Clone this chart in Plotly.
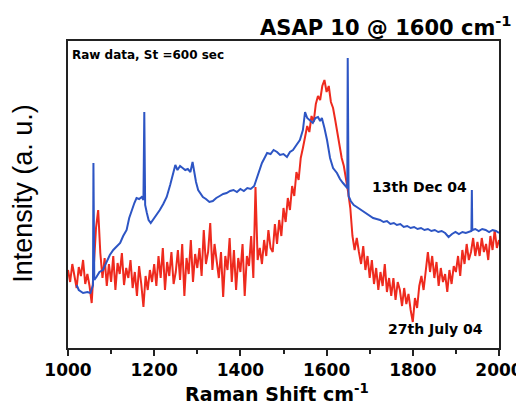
import plotly.graph_objects as go

# blue trace: 13th Dec 04 (Raman shift, intensity a.u.)
dec_shift = [1020, 1025, 1035, 1045, 1052, 1056, 1058, 1059, 1061, 1066, 1073, 1081, 1089, 1097,
             1105, 1113, 1121, 1128, 1136, 1142, 1148, 1154, 1159, 1165, 1171, 1175, 1177, 1179,
             1183, 1187, 1192, 1197, 1204, 1213, 1221, 1229, 1237, 1244, 1249, 1254, 1260, 1266,
             1272, 1278, 1284, 1289, 1292, 1297, 1302, 1308, 1313, 1320, 1328, 1336, 1344, 1352,
             1360, 1368, 1376, 1384, 1392, 1400, 1408, 1416, 1424, 1432, 1438, 1444, 1450, 1456,
             1462, 1470, 1477, 1485, 1492, 1500, 1508, 1515, 1522, 1530, 1538, 1545, 1550, 1555,
             1561, 1568, 1574, 1580, 1585, 1589, 1595, 1601, 1608, 1615, 1624, 1631, 1638, 1645,
             1648, 1649, 1651, 1656, 1663, 1670, 1677, 1684, 1692, 1700, 1708, 1716, 1724, 1732,
             1740, 1748, 1756, 1763, 1771, 1779, 1787, 1795, 1803, 1811, 1819, 1827, 1835, 1843,
             1851, 1859, 1867, 1875, 1883, 1891, 1899, 1907, 1915, 1923, 1931, 1936, 1937, 1938,
             1945, 1953, 1961, 1969, 1977, 1985, 1993, 2000]
dec_int = [63, 58, 55, 56, 55, 61, 63, 185, 68, 71, 76, 78, 86, 93,
           98, 102, 105, 112, 118, 130, 138, 145, 150, 149, 151, 148, 236, 143,
           135, 128, 125, 128, 132, 138, 144, 151, 163, 175, 183, 178, 182, 180,
           178, 179, 176, 186, 178, 166, 158, 154, 151, 149, 146, 147, 150, 152,
           154, 155, 157, 158, 156, 159, 157, 160, 159, 162, 170, 178, 185, 190,
           195, 194, 198, 196, 193, 194, 191, 196, 198, 203, 208, 218, 236, 230,
           228, 225, 230, 231, 227, 230, 220, 208, 190, 180, 175, 169, 165, 162,
           160, 290, 152, 147, 143, 141, 139, 137, 134, 132, 130, 129, 128, 126,
           127, 124, 125, 123, 124, 121, 122, 120, 121, 119, 120, 118, 119, 117,
           118, 116, 117, 115, 111, 114, 116, 114, 116, 115, 116, 117, 158, 118,
           119, 117, 119, 118, 116, 118, 117, 115]

# red trace: 27th July 04, every 5 cm-1 from 1000 to 2000
july_shift = list(range(1000, 2001, 5))
july_int = [78, 66, 84, 70, 60, 81, 72, 88, 64, 74,
            62, 45, 80, 120, 138, 95, 70, 90, 62, 84,
            66, 92, 58, 85, 74, 95, 63, 80, 70, 88,
            60, 76, 52, 82, 64, 41, 72, 58, 78, 66,
            84, 62, 92, 70, 100, 58, 86, 72, 96, 64,
            76, 98, 68, 104, 52, 90, 74, 108, 66, 94,
            80, 100, 72, 118, 84, 96, 125, 78, 104, 88,
            70, 96, 51, 92, 78, 110, 66, 98, 58, 90,
            76, 104, 52, 92, 82, 112, 70, 161, 88, 100,
            84, 108, 92, 118, 100, 96, 124, 104, 128, 112,
            140, 126, 150, 138, 162, 152, 176, 168, 190, 200,
            212, 222, 216, 232, 226, 244, 252, 248, 262, 268,
            256, 262, 246, 240, 228, 214, 204, 190, 182, 170,
            156, 140, 112, 98, 110, 96, 84, 102, 78, 92,
            70, 88, 64, 80, 58, 76, 62, 84, 56, 70,
            52, 70, 48, 66, 58, 42, 60, 44, 54, 38,
            26, 50, 40, 62, 72, 58, 80, 96, 76, 92,
            70, 86, 62, 80, 66, 74, 56, 78, 64, 82,
            76, 92, 72, 98, 84, 104, 88, 96, 110, 92,
            106, 92, 110, 96, 104, 88, 112, 98, 118, 100,
            108]

x_ticks = [1000, 1200, 1400, 1600, 1800, 2000]
x_minor = [1100, 1300, 1500, 1700, 1900]

fig = go.Figure()

fig.add_trace(go.Scatter(x=july_shift, y=july_int, mode='lines',
                         line=dict(color='#ee2a1e', width=2), name='27th July 04'))
fig.add_trace(go.Scatter(x=dec_shift, y=dec_int, mode='lines',
                         line=dict(color='#2d55c4', width=2), name='13th Dec 04'))

bold = dict(family='DejaVu Sans', color='black')

# the page body adds an 8px offset, so the figure is 8px smaller than the window
fig.update_layout(
    width=516, height=399,
    margin=dict(l=60, r=25, t=33, b=59, autoexpand=False),
    paper_bgcolor='white', plot_bgcolor='white',
    showlegend=False,
    xaxis=dict(range=[1000, 2000], tickvals=x_ticks, ticks='outside', ticklen=6,
               tickwidth=1.5, tickcolor='#222', showgrid=False, zeroline=False,
               showline=True, linecolor='#222', linewidth=1.5, mirror=True, automargin=False,
               tickfont=dict(family='DejaVu Sans', size=17, color='black', weight='bold'),
               minor=dict(tickvals=x_minor, ticks='outside', ticklen=4, tickcolor='#222')),
    yaxis=dict(range=[0, 307], showticklabels=False, ticks='', showgrid=False, automargin=False,
               zeroline=False, showline=True, linecolor='#222', linewidth=1.5, mirror=True),
    annotations=[
        dict(text='<b>ASAP 10 @ 1600 cm<sup>-1</sup></b>', xref='paper', yref='paper',
             x=1.035, y=1.05, xanchor='right', yanchor='middle', showarrow=False,
             font=dict(size=21, **bold)),
        dict(text='<b>Raman Shift cm<sup>-1</sup></b>', xref='paper', yref='paper',
             x=0.486, y=-0.145, xanchor='center', yanchor='middle', showarrow=False,
             font=dict(size=19, **bold)),
        dict(text='Intensity (a. u.)', xref='paper', yref='paper', textangle=-90,
             x=-0.105, y=0.505, xanchor='center', yanchor='middle', showarrow=False,
             font=dict(family='Liberation Sans', size=27, color='black')),
        dict(text='<b>Raw data, St =600 sec</b>', xref='paper', yref='paper',
             x=0.005, y=0.955, xanchor='left', yanchor='middle', showarrow=False,
             font=dict(size=12, **bold)),
        dict(text='<b>13th Dec 04</b>', xref='paper', yref='paper',
             x=0.816, y=0.524, xanchor='center', yanchor='middle', showarrow=False,
             font=dict(size=14, **bold)),
        dict(text='<b>27th July 04</b>', xref='paper', yref='paper',
             x=0.853, y=0.062, xanchor='center', yanchor='middle', showarrow=False,
             font=dict(size=14, **bold)),
    ],
)

fig.write_html("out.html")
